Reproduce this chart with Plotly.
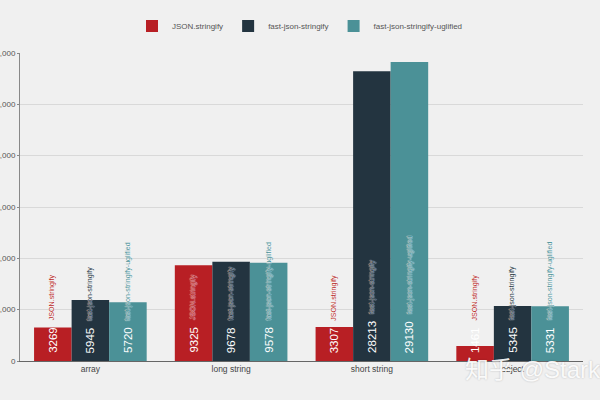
import plotly.graph_objects as go

categories = ["array", "long string", "short string", "object"]
series_names = ["JSON.stringify", "fast-json-stringify", "fast-json-stringify-uglified"]
json_stringify = [3269, 9325, 3307, 1461]
fast_json = [5945, 9678, 28213, 5345]
fast_json_uglified = [5720, 9578, 29130, 5331]
y_ticks = [0, 5000, 10000, 15000, 20000, 25000, 30000]

colors = ["#b81f24", "#233440", "#4b9197"]
series_values = [json_stringify, fast_json, fast_json_uglified]

xs = list(range(len(categories)))
bargap = 0.2
bw = (1 - bargap) / len(series_names)

fig = go.Figure()
for name, vals, col in zip(series_names, series_values, colors):
    fig.add_trace(go.Bar(x=xs, y=vals, name=name, marker=dict(color=col, line=dict(width=0))))

value_font = 11.5
digit_w = 0.556 * value_font
annotations = []
for k, (name, vals, col) in enumerate(zip(series_names, series_values, colors)):
    for i, v in enumerate(vals):
        xpos = i + (k - 1) * bw
        annotations.append(dict(
            x=xpos, y=0, xref="x", yref="y", text=str(v), showarrow=False,
            textangle=-90, xanchor="center", yanchor="bottom", yshift=6,
            font=dict(family="Liberation Sans, Arial", size=value_font, color="#ffffff"),
        ))
        annotations.append(dict(
            x=xpos, y=0, xref="x", yref="y", text=name, showarrow=False,
            textangle=-90, xanchor="center", yanchor="bottom",
            yshift=6 + len(str(v)) * digit_w + 7,
            font=dict(family="Liberation Sans, Arial", size=7.1, color=col,
                      shadow="0 0 1px #ffffff, 0 0 1px #ffffff"),
        ))

annotations.append(dict(
    x=(463 - 20) / 563, y=(361 - 370) / 319, xref="paper", yref="paper",
    text="知乎 @Starkwang", showarrow=False, xanchor="left", yanchor="middle",
    font=dict(family="Liberation Sans, Noto Sans CJK SC", size=24,
              color="rgba(255,255,255,0.92)",
              shadow="0px 0px 2px rgba(0,0,0,0.25)"),
))

fig.update_layout(
    template="none",
    width=600, height=400,
    paper_bgcolor="#f0f0f0", plot_bgcolor="#f0f0f0",
    margin=dict(l=20, r=17, t=42, b=39),
    barmode="group", bargap=bargap, bargroupgap=0,
    font=dict(family="Liberation Sans, Arial", size=9, color="#555555"),
    legend=dict(orientation="h", x=(300 - 20) / 563, xanchor="center", y=(361 - 14) / 319,
                yanchor="middle", font=dict(size=8, color="#555555"),
                bgcolor="rgba(0,0,0,0)", tracegroupgap=0),
    xaxis=dict(range=[-0.5, 3.5], tickvals=xs, ticktext=categories, showgrid=False,
               showline=True, linecolor="#666666", linewidth=1, ticks="", zeroline=False,
               tickfont=dict(size=8.5, color="#444444"), automargin=False),
    yaxis=dict(range=[0, 30000], tickvals=y_ticks, tickformat=",", showgrid=True,
               gridcolor="#d9d9d9", gridwidth=1, showline=True, linecolor="#888888",
               ticks="outside", ticklen=2, tickcolor="#888888", zeroline=False,
               tickfont=dict(size=8, color="#555555"), automargin=False),
    annotations=annotations,
)

fig.write_html("out.html")
